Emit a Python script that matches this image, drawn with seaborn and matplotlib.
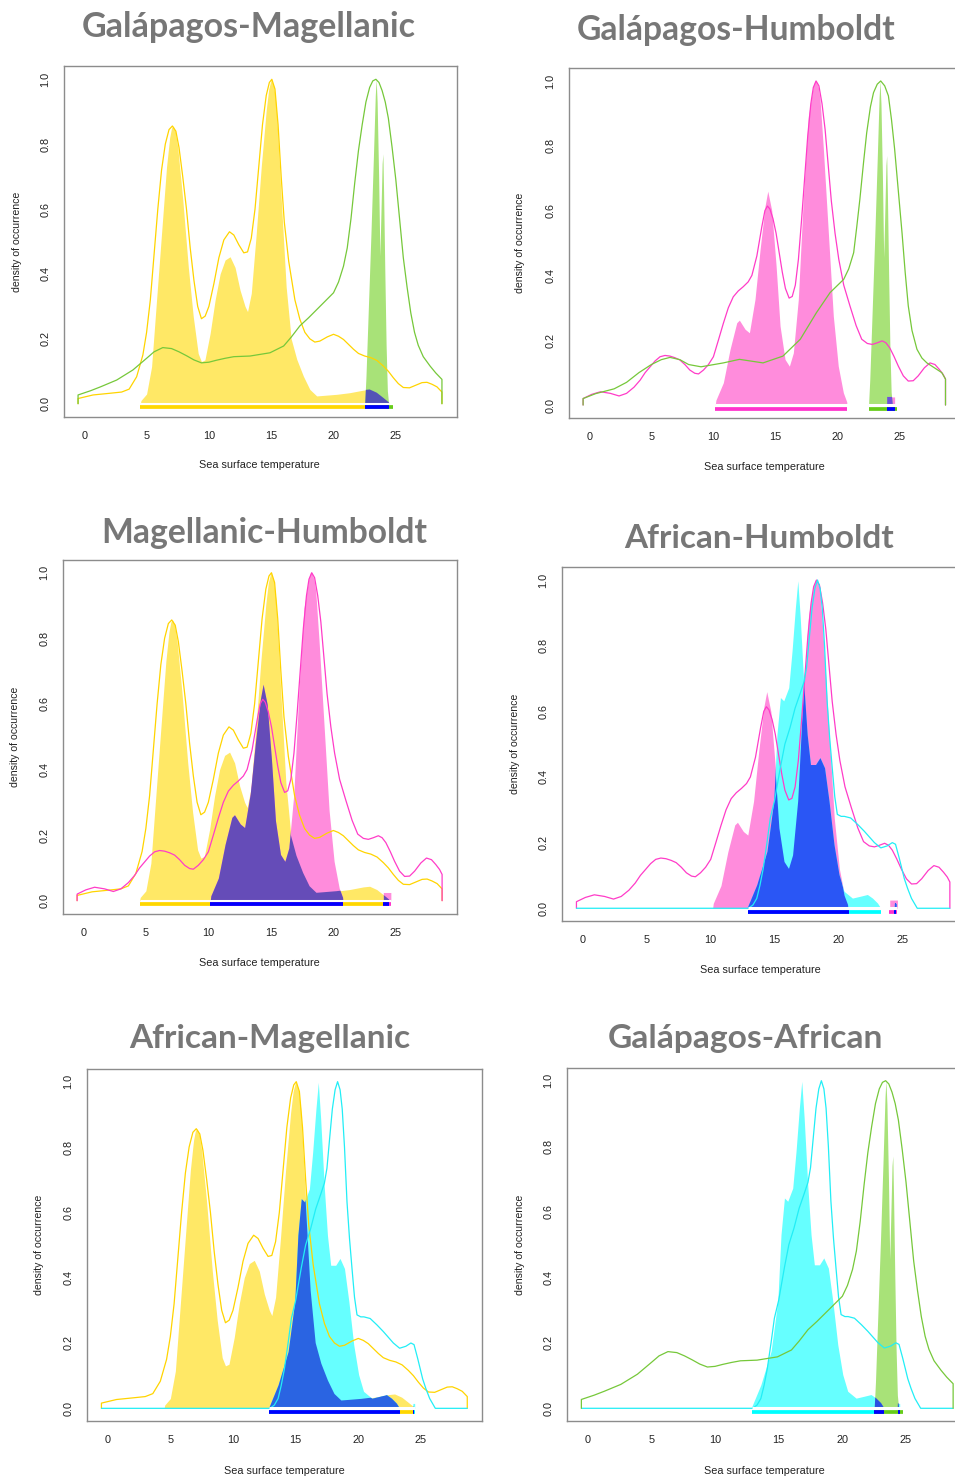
import numpy as np
import matplotlib
matplotlib.use("Agg")
import matplotlib.pyplot as plt
from matplotlib.patches import Polygon
import seaborn as sns

# ---------------- data ----------------
TEMP_TICKS = [0, 5, 10, 15, 20, 25]
DENS_TICKS = [0.0, 0.2, 0.4, 0.6, 0.8, 1.0]

# Magellanic (yellow)
MAG_LINE_X = [-0.5, -0.5, 0.7, 2.0, 3.0, 3.6, 4.2, 4.7, 5.0, 5.3, 5.6, 5.9, 6.2, 6.5, 6.8, 7.07, 7.35,
              7.6, 7.9, 8.2, 8.5, 8.8, 9.1, 9.4, 9.7, 10.0, 10.4, 10.8, 11.2, 11.65, 12.0, 12.4, 12.8,
              13.1, 13.4, 13.7, 14.0, 14.3, 14.6, 14.85, 15.05, 15.3, 15.55, 15.8, 16.05, 16.4, 16.9,
              17.3, 17.7, 18.1, 18.5, 18.9, 19.5, 20.0, 20.4, 20.8, 21.2, 21.6, 22.0, 22.5, 23.0,
              23.5, 24.0, 24.4, 24.8, 25.2, 25.6, 26.1, 26.6, 27.1, 27.5, 27.9, 28.3, 28.7, 28.7]
MAG_LINE_Y = [0, 0.016, 0.027, 0.032, 0.036, 0.045, 0.083, 0.15, 0.22, 0.32, 0.46, 0.6, 0.72, 0.8,
              0.845, 0.856, 0.84, 0.79, 0.7, 0.6, 0.48, 0.38, 0.3, 0.262, 0.27, 0.3, 0.37, 0.45,
              0.505, 0.53, 0.52, 0.49, 0.465, 0.468, 0.51, 0.6, 0.73, 0.86, 0.95, 0.99, 1.0, 0.97,
              0.86, 0.7, 0.56, 0.44, 0.32, 0.26, 0.22, 0.2, 0.19, 0.193, 0.206, 0.214, 0.208, 0.198,
              0.183, 0.168, 0.155, 0.147, 0.142, 0.133, 0.116, 0.1, 0.08, 0.062, 0.05, 0.049, 0.057,
              0.065, 0.066, 0.06, 0.052, 0.036, 0]
MAG_FILL_X = [4.5, 4.55, 5.0, 5.4, 5.8, 6.2, 6.6, 6.85, 7.0, 7.14, 7.3, 7.5, 7.9, 8.35, 8.74, 9.14,
              9.4, 9.68, 10.1, 10.5, 10.9, 11.3, 11.7, 12.1, 12.5, 12.9, 13.1, 13.4, 13.8, 14.2,
              14.6, 14.8, 15.0, 15.2, 15.4, 15.85, 16.2, 16.6, 17.05, 17.58, 18.1, 18.65, 19.3,
              20.26, 21.3, 22.4, 22.9, 23.47, 24.0, 24.45, 24.5]
MAG_FILL_Y = [0, 0.01, 0.03, 0.114, 0.32, 0.525, 0.73, 0.82, 0.85, 0.856, 0.84, 0.79, 0.63, 0.42,
              0.27, 0.155, 0.13, 0.135, 0.217, 0.32, 0.4, 0.443, 0.453, 0.42, 0.35, 0.3, 0.284, 0.34,
              0.525, 0.73, 0.905, 0.97, 1.0, 0.98, 0.92, 0.6, 0.36, 0.2, 0.137, 0.085, 0.044,
              0.024, 0.026, 0.029, 0.034, 0.042, 0.044, 0.034, 0.018, 0.004, 0]
MAG_RANGE = [(4.5, 24.45)]
MAG_ENV = (-0.5, 28.7)

# Galapagos (green)
GAL_LINE_X = [-0.5, -0.5, 0.5, 1.3, 2.6, 3.9, 5.0, 5.6, 6.3, 7.0, 7.6, 8.2, 8.8, 9.4, 10.0, 10.6,
              11.3, 12.0, 13.3, 14.9, 16.0, 16.6, 17.3, 18.0, 18.65, 19.3, 20.0, 20.4, 20.8, 21.1,
              21.4, 21.7, 22.0, 22.3, 22.6, 22.9, 23.15, 23.4, 23.65, 23.9, 24.15, 24.4, 24.7, 25.0,
              25.3, 25.6, 25.9, 26.2, 26.5, 26.8, 27.2, 27.75, 28.2, 28.7, 28.7]
GAL_LINE_Y = [0, 0.027, 0.04, 0.052, 0.073, 0.104, 0.14, 0.16, 0.173, 0.17, 0.16, 0.148, 0.135,
              0.126, 0.128, 0.134, 0.14, 0.145, 0.147, 0.157, 0.178, 0.205, 0.24, 0.265, 0.29,
              0.315, 0.342, 0.375, 0.424, 0.48, 0.57, 0.68, 0.78, 0.86, 0.93, 0.975, 0.995, 1.0,
              0.99, 0.965, 0.93, 0.88, 0.79, 0.69, 0.57, 0.45, 0.36, 0.28, 0.22, 0.18, 0.145, 0.116,
              0.095, 0.075, 0]
GAL_LINE_X_VS_HUM = [-0.5, -0.5, 0.5, 2.0, 3.0, 4.0, 5.0, 5.8, 6.5, 7.3, 8.0, 9.0, 10.8, 12.1, 14.0,
                     15.6, 17.0, 18.3, 19.4, 20.5, 20.9, 21.3, 21.55, 21.8, 22.1, 22.35, 22.65, 22.9,
                     23.2, 23.48, 23.8, 24.1, 24.35, 24.6, 24.9, 25.2, 25.45, 25.7, 26.0, 26.4,
                     26.8, 27.2, 27.6, 28.0, 28.4, 28.7, 28.7]
GAL_LINE_Y_VS_HUM = [0, 0.02, 0.035, 0.05, 0.07, 0.1, 0.125, 0.14, 0.147, 0.14, 0.125, 0.118, 0.13,
                     0.141, 0.13, 0.151, 0.203, 0.285, 0.347, 0.388, 0.42, 0.47, 0.55, 0.635, 0.75,
                     0.84, 0.92, 0.964, 0.99, 1.0, 0.985, 0.954, 0.88, 0.79, 0.66, 0.53, 0.41, 0.306,
                     0.23, 0.172, 0.145, 0.13, 0.12, 0.11, 0.1, 0.08, 0]
GAL_FILL_X = [22.5, 22.6, 22.8, 23.0, 23.2, 23.35, 23.42, 23.5, 23.62, 23.72, 23.8, 23.9, 23.96,
              24.02, 24.12, 24.22, 24.32, 24.42]
GAL_FILL_Y = [0, 0.08, 0.3, 0.52, 0.76, 0.95, 1.0, 0.93, 0.7, 0.455, 0.58, 0.74, 0.77, 0.65, 0.4,
              0.18, 0.04, 0]
GAL_RANGE = [(22.5, 24.8)]
GAL_ENV = (-0.5, 28.7)

# Humboldt (pink)
HUM_LINE_X = [-0.5, -0.5, 0.2, 0.9, 1.7, 2.4, 3.0, 3.6, 4.1, 4.5, 4.9, 5.3, 5.7, 6.1, 6.5, 6.9, 7.3,
              7.7, 8.1, 8.5, 8.8, 9.2, 9.6, 10.0, 10.4, 10.8, 11.2, 11.6, 12.0, 12.4, 12.8, 13.1,
              13.5, 13.9, 14.15, 14.35, 14.55, 14.8, 15.05, 15.3, 15.55, 15.8, 16.1, 16.35, 16.6,
              16.85, 17.1, 17.35, 17.6, 17.85, 18.05, 18.27, 18.5, 18.75, 19.0, 19.25, 19.5, 19.8,
              20.1, 20.5, 21.0, 21.5, 21.95, 22.4, 22.8, 23.2, 23.6, 23.9, 24.2, 24.55, 24.9, 25.3,
              25.7, 26.1, 26.5, 27.0, 27.45, 27.85, 28.2, 28.5, 28.7, 28.7]
HUM_LINE_Y = [0, 0.02, 0.033, 0.041, 0.036, 0.028, 0.036, 0.055, 0.077, 0.1, 0.118, 0.136, 0.149,
              0.153, 0.151, 0.146, 0.139, 0.125, 0.108, 0.098, 0.096, 0.108, 0.125, 0.149, 0.2,
              0.252, 0.3, 0.334, 0.352, 0.365, 0.38, 0.4, 0.46, 0.55, 0.6, 0.614, 0.605, 0.575,
              0.53, 0.47, 0.41, 0.36, 0.33, 0.335, 0.37, 0.45, 0.57, 0.7, 0.83, 0.93, 0.98, 1.0,
              0.985, 0.93, 0.85, 0.74, 0.63, 0.53, 0.45, 0.37, 0.306, 0.245, 0.203, 0.19, 0.187,
              0.192, 0.198, 0.192, 0.177, 0.15, 0.12, 0.09, 0.074, 0.075, 0.09, 0.115, 0.13, 0.125,
              0.11, 0.095, 0.08, 0]
HUM_FILL_X = [10.15, 10.2, 10.8, 11.34, 11.88, 12.09, 12.55, 12.9, 13.35, 13.76, 14.16, 14.38, 14.7,
              15.05, 15.37, 15.77, 16.12, 16.44, 16.84, 17.24, 17.65, 18.05, 18.17, 18.3, 18.45,
              18.59, 18.86, 19.26, 19.66, 20.06, 20.47, 20.74, 20.76, 24.0, 24.0, 24.6, 24.6]
HUM_FILL_Y = [0, 0.015, 0.069, 0.172, 0.254, 0.262, 0.234, 0.223, 0.326, 0.48, 0.614, 0.66, 0.6,
              0.43, 0.244, 0.141, 0.12, 0.161, 0.326, 0.635, 0.892, 0.985, 1.0, 0.998, 0.98, 0.944,
              0.79, 0.532, 0.275, 0.12, 0.038, 0.01, 0, 0, 0.025, 0.025, 0]
HUM_RANGE = [(10.1, 20.8), (23.95, 24.6)]
HUM_ENV = (-0.5, 28.7)

# African (cyan)
AFR_LINE_X = [-0.5, 12.95, 13.3, 13.6, 13.85, 14.1, 14.4, 14.66, 15.0, 15.45, 15.8, 16.2, 16.6, 17.0,
              17.3, 17.5, 17.7, 17.93, 18.15, 18.35, 18.55, 18.72, 18.9, 19.1, 19.3, 19.5, 19.7,
              19.9, 20.2, 20.45, 20.95, 21.5, 22.0, 22.8, 23.3, 23.8, 24.2, 24.45, 24.74, 24.95,
              25.14, 25.4, 25.7, 26.15, 28.7]
AFR_LINE_Y = [0, 0, 0.01, 0.03, 0.07, 0.12, 0.2, 0.275, 0.33, 0.43, 0.5, 0.55, 0.61, 0.655, 0.69,
              0.735, 0.82, 0.916, 0.975, 1.0, 0.975, 0.916, 0.8, 0.632, 0.52, 0.428, 0.34, 0.286,
              0.28, 0.28, 0.275, 0.255, 0.235, 0.2, 0.184, 0.19, 0.2, 0.195, 0.153, 0.12, 0.09,
              0.06, 0.03, 0, 0]
AFR_FILL_X = [12.83, 13.6, 14.4, 14.93, 15.18, 15.45, 15.71, 16.1, 16.36, 16.62, 16.81, 17.0, 17.28,
              17.54, 17.8, 18.2, 18.54, 18.9, 19.25, 19.64, 20.03, 20.42, 21.08, 21.73, 22.25, 22.65,
              23.04, 23.3, 24.35, 24.36, 24.5, 24.51]
AFR_FILL_Y = [0, 0.072, 0.174, 0.327, 0.53, 0.642, 0.632, 0.672, 0.784, 0.916, 0.998, 0.886, 0.682,
              0.53, 0.438, 0.438, 0.459, 0.428, 0.327, 0.194, 0.103, 0.052, 0.031, 0.037, 0.042,
              0.031, 0.016, 0, 0, 0.015, 0.015, 0]
AFR_RANGE = [(12.85, 23.3), (24.35, 24.5)]
AFR_ENV = (12.9, 26.15)

SPECIES = {
    "Magellanic": dict(lx=MAG_LINE_X, ly=MAG_LINE_Y, fx=MAG_FILL_X, fy=MAG_FILL_Y, rng=MAG_RANGE,
                       env=MAG_ENV, line="#FFD400", fill="#FFE866", bar="#FFD700"),
    "Galapagos": dict(lx=GAL_LINE_X, ly=GAL_LINE_Y, fx=GAL_FILL_X, fy=GAL_FILL_Y, rng=GAL_RANGE,
                      env=GAL_ENV, line="#76C83A", fill="#A8E278", bar="#66CC1A"),
    "Humboldt": dict(lx=HUM_LINE_X, ly=HUM_LINE_Y, fx=HUM_FILL_X, fy=HUM_FILL_Y, rng=HUM_RANGE,
                     env=HUM_ENV, line="#FF3CC8", fill="#FF8CDC", bar="#FF33CC"),
    "African": dict(lx=AFR_LINE_X, ly=AFR_LINE_Y, fx=AFR_FILL_X, fy=AFR_FILL_Y, rng=AFR_RANGE,
                    env=AFR_ENV, line="#22EEF6", fill="#66FFFF", bar="#00FFFF"),
}

PANELS = [
    dict(title="Galápagos-Magellanic", a="Magellanic", b="Galapagos", ov="#5353B6",
         box=(63.5, 456.5, 66.3, 416.7), tc=(249, 37.3), tw=332, ylx=16.7, xl=(259.8, 465)),
    dict(title="Galápagos-Humboldt", a="Humboldt", b="Galapagos", ov="#6F50DD",
         box=(568.6, 960.0, 68.0, 418.0), tc=(736, 40.5), tw=318, ylx=520.3, xl=(764, 466.7),
         gal_line=(GAL_LINE_X_VS_HUM, GAL_LINE_Y_VS_HUM)),
    dict(title="Magellanic-Humboldt", a="Magellanic", b="Humboldt", ov="#654CB8",
         box=(62.5, 456.7, 559.6, 913.8), tc=(264.2, 543.3), tw=325, ylx=15, xl=(259.5, 962.7)),
    dict(title="African-Humboldt", a="Humboldt", b="African", ov="#2A56F5",
         box=(561.5, 964.8, 566.9, 921.4), tc=(759.2, 548.3), tw=269, ylx=515.3, xl=(760.2, 970)),
    dict(title="African-Magellanic", a="Magellanic", b="African", ov="#2A64E2",
         box=(86.8, 481.9, 1068.6, 1421.4), tc=(269.7, 1048.3), tw=281, ylx=39.3, xl=(284.5, 1470.7)),
    dict(title="Galápagos-African", a="African", b="Galapagos", ov="#2A50E0",
         box=(566.5, 968.0, 1067.6, 1421.4), tc=(745.5, 1048.3), tw=274, ylx=520, xl=(764.8, 1470.7)),
]

# ---------------- drawing ----------------
sns.set_style("white")
plt.rcParams['font.family'] = ['Liberation Sans', 'DejaVu Sans']

W, H = 955, 1477
fig = plt.figure(figsize=(W / 100, H / 100), dpi=100)

BAR_Y = -0.011
titles = []
for p in PANELS:
    l, r, t, b = p["box"]
    ax = fig.add_axes([l / W, 1 - b / H, (r - l) / W, (b - t) / H])
    A = SPECIES[p["a"]]
    B = SPECIES[p["b"]]

    # occurrence densities (filled)
    ax.fill_between(A["fx"], A["fy"], 0, color=A["fill"], lw=0, zorder=1)
    ax.fill_between(B["fx"], B["fy"], 0, color=B["fill"], lw=0, zorder=1)
    clip = Polygon(np.column_stack([A["fx"], A["fy"]]), closed=True, transform=ax.transData)
    ov = ax.fill_between(B["fx"], B["fy"], 0, color=p["ov"], lw=0, zorder=2)
    ov.set_clip_path(clip)

    # environment densities (lines)
    for sp_key, sp in ((p["a"], A), (p["b"], B)):
        lx, ly = sp["lx"], sp["ly"]
        if sp_key == "Galapagos" and "gal_line" in p:
            lx, ly = p["gal_line"]
        sns.lineplot(x=lx, y=ly, ax=ax, color=sp["line"], lw=0.9, estimator=None,
                     sort=False, zorder=3)

    # range bars, limited to the environment shared by both species
    env_lo = max(A["env"][0], B["env"][0])
    env_hi = min(A["env"][1], B["env"][1])

    def clipped(segs):
        out = []
        for s, e in segs:
            s2, e2 = max(s, env_lo), min(e, env_hi)
            if e2 > s2:
                out.append((s2, e2))
        return out

    ra, rb = clipped(A["rng"]), clipped(B["rng"])
    lo = min(s for s, e in ra + rb)
    hi = max(e for s, e in ra + rb)
    ax.hlines(0, lo, hi, color="white", lw=2.2, zorder=4)
    for sp, segs in ((A, ra), (B, rb)):
        for s, e in segs:
            ax.hlines(BAR_Y, s, e, color=sp["bar"], lw=2.7, zorder=5)
    for s1, e1 in ra:
        for s2, e2 in rb:
            s, e = max(s1, s2), min(e1, e2)
            if e > s:
                ax.hlines(BAR_Y, s, e, color="#0000FF", lw=2.7, zorder=6)

    ax.set_xlim(-1.668, 29.868)
    ax.set_ylim(-0.04, 1.04)
    ax.set_xticks(TEMP_TICKS)
    ax.set_xticklabels([str(v) for v in TEMP_TICKS])
    ax.set_yticks(DENS_TICKS)
    ax.set_yticklabels([f"{v:.1f}" for v in DENS_TICKS])
    ax.tick_params(direction="out", length=5, width=0.8, color="#555555", labelsize=7.8,
                   labelcolor="#222222")
    ax.tick_params(axis="x", pad=5)
    ax.tick_params(axis="y", pad=4.5, labelrotation=90)
    for lab in ax.get_yticklabels():
        lab.set_va("center")
    for sp in ax.spines.values():
        sp.set_color("#8c8c8c")
        sp.set_linewidth(1.0)
    ax.set_xlabel("")
    ax.set_ylabel("")

    fig.text(p["xl"][0] / W, 1 - p["xl"][1] / H, "Sea surface temperature", ha="center",
             va="center", fontsize=7.8, color="#222222")
    fig.text(p["ylx"] / W, 1 - ((t + b) / 2) / H, "density of occurrence", ha="center",
             va="center", rotation=90, fontsize=7.6, color="#222222")
    tt = fig.text(p["tc"][0] / W, 1 - p["tc"][1] / H, p["title"], ha="center", va="baseline",
                  fontsize=22, fontweight="bold", color="#777777", family=["Lato", "DejaVu Sans"])
    titles.append((tt, p["tw"]))

fig.canvas.draw()
renderer = fig.canvas.get_renderer()
for tt, target in titles:
    w = tt.get_window_extent(renderer).width
    tt.set_fontsize(22 * target / w)

fig.savefig("out.png", dpi=100)
